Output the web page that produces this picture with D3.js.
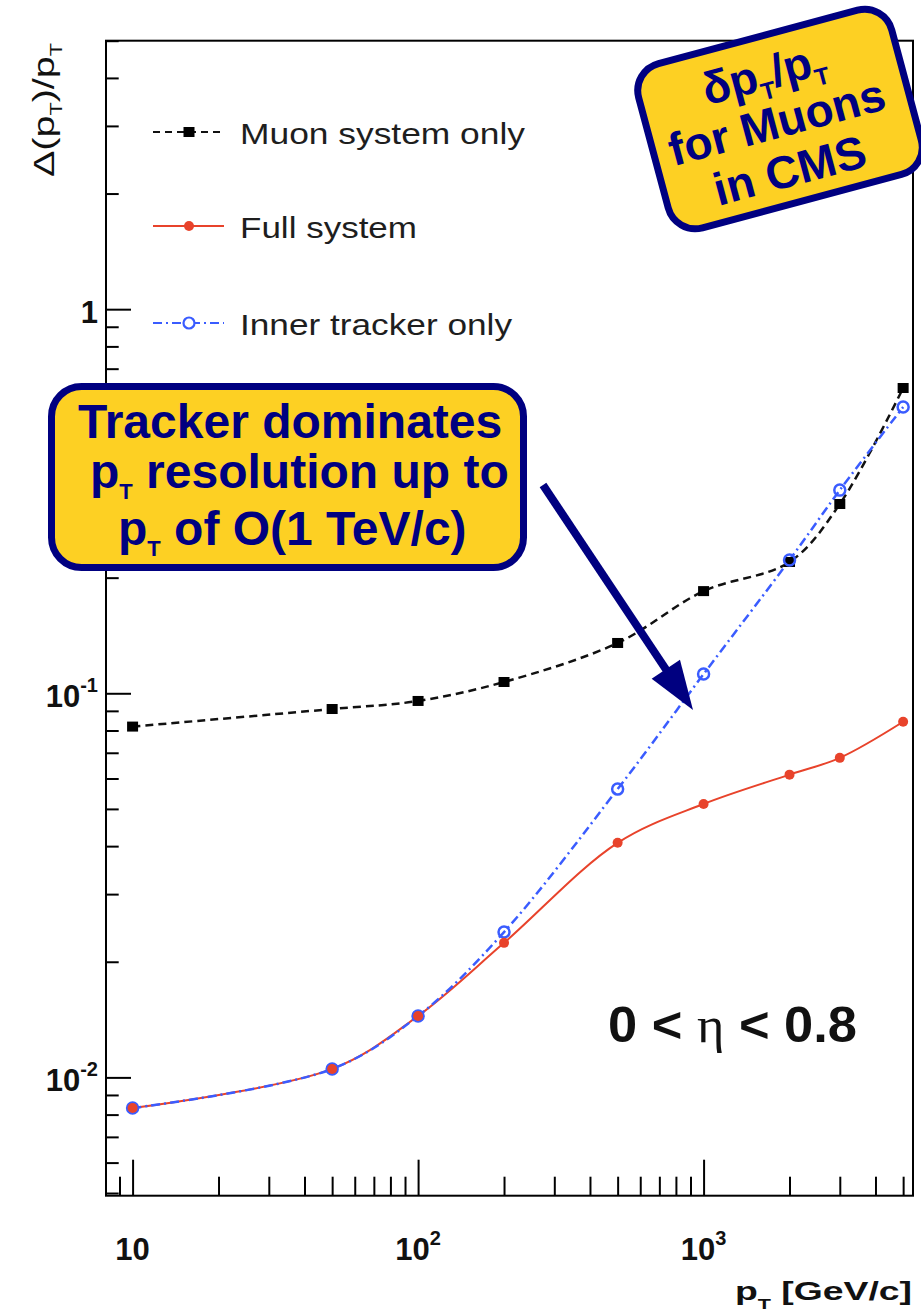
<!DOCTYPE html>
<html>
<head>
<meta charset="utf-8">
<script src="https://cdn.jsdelivr.net/npm/d3@7"></script>
<style>
  html, body { margin: 0; padding: 0; background: #fff; }
  svg { display: block; }
</style>
</head>
<body>
<svg id="chart" width="921" height="1311"></svg>
<script>
// Muon transverse-momentum resolution vs pT, 0 < eta < 0.8
const ptValues     = [10, 50, 100, 200, 500, 1000, 2000, 3000, 5000];
const muonOnly     = [0.0819, 0.0910, 0.0955, 0.107, 0.1352, 0.1845, 0.2197, 0.311, 0.6234];
const fullSystem   = [0.00832, 0.01052, 0.01445, 0.0224, 0.0408, 0.0515, 0.0614, 0.0679, 0.0843];
const innerTracker = [0.00832, 0.01052, 0.01445, 0.0239, 0.0563, 0.1122, 0.2223, 0.338, 0.556];
const seriesNames  = ["Muon system only", "Full system", "Inner tracker only"];

const xMajorTicks = [10, 100, 1000];
const xTickLabels = [["10", ""], ["10", "2"], ["10", "3"]];
const yMajorTicks = [0.01, 0.1, 1];
const yTickLabels = [["10", "-2"], ["10", "-1"], ["1", ""]];

const FONT = "'Liberation Sans', Arial, Helvetica, sans-serif";
const NAVY = "#000080";
const GOLD = "#fdd023";
const RED = "#e8432b";
const BLUE = "#3a5cff";

const svg = d3.select("#chart");

const x = d3.scaleLog().domain([8.07, 5414]).range([106, 913]);
const y = d3.scaleLog().domain([0.00492, 5]).range([1195.7, 40.7]);

const isDecade = v => Math.abs(Math.log10(v) - Math.round(Math.log10(v))) < 1e-6;
const xMinor = x.ticks().filter(v => !isDecade(v));
const yMinor = y.ticks().filter(v => !isDecade(v));

// ---- axes (ticks drawn inward) ----
const gx = svg.append("g").attr("transform", `translate(0,${y.range()[0]})`);
gx.append("g").call(d3.axisBottom(x).tickValues(xMinor).tickSize(-19).tickFormat(""));
gx.append("g").call(d3.axisBottom(x).tickValues(xMajorTicks).tickSize(-36).tickFormat(""));
const gy = svg.append("g").attr("transform", `translate(${x.range()[0]},0)`);
gy.append("g").call(d3.axisLeft(y).tickValues(yMinor).tickSize(-12.7).tickFormat(""));
gy.append("g").call(d3.axisLeft(y).tickValues(yMajorTicks).tickSize(-25).tickFormat(""));
svg.selectAll(".domain").remove();
svg.selectAll(".tick line").attr("stroke", "#000").attr("stroke-width", 2);

// frame
svg.append("rect")
  .attr("x", x.range()[0]).attr("y", y.range()[1])
  .attr("width", x.range()[1] - x.range()[0])
  .attr("height", y.range()[0] - y.range()[1])
  .attr("fill", "none").attr("stroke", "#000").attr("stroke-width", 2);

// tick labels
xMajorTicks.forEach((v, i) => {
  const t = svg.append("text")
    .attr("x", x(v)).attr("y", 1260)
    .attr("text-anchor", "middle")
    .attr("font-family", FONT).attr("font-weight", "bold")
    .attr("font-size", 31).attr("fill", "#111");
  t.append("tspan").text(xTickLabels[i][0]);
  if (xTickLabels[i][1]) t.append("tspan").attr("font-size", 20).attr("dy", -15).text(xTickLabels[i][1]);
});
yMajorTicks.forEach((v, i) => {
  const t = svg.append("text")
    .attr("x", 98).attr("y", y(v) + 14)
    .attr("text-anchor", "end")
    .attr("font-family", FONT).attr("font-weight", "bold")
    .attr("font-size", 31).attr("fill", "#111");
  t.append("tspan").text(yTickLabels[i][0]);
  if (yTickLabels[i][1]) t.append("tspan").attr("font-size", 20).attr("dy", -15).text(yTickLabels[i][1]);
});

// axis titles
const xt = svg.append("text")
  .attr("x", 912).attr("y", 1300).attr("text-anchor", "end")
  .attr("font-family", FONT).attr("font-weight", "bold")
  .attr("font-size", 26).attr("fill", "#111")
  .attr("textLength", 177).attr("lengthAdjust", "spacingAndGlyphs");
xt.append("tspan").text("p");
xt.append("tspan").attr("font-size", 15).attr("dy", 9).text("T");
xt.append("tspan").attr("dy", -9).text(" [GeV/c]");

const yt = svg.append("text")
  .attr("transform", "translate(54,177) rotate(-90)")
  .attr("font-family", FONT).attr("font-size", 29).attr("fill", "#111")
  .attr("textLength", 134).attr("lengthAdjust", "spacingAndGlyphs");
yt.append("tspan").text("\u0394(p");
yt.append("tspan").attr("font-size", 16).attr("dy", 8).text("T");
yt.append("tspan").attr("dy", -8).text(")/p");
yt.append("tspan").attr("font-size", 16).attr("dy", 8).text("T");

// ---- series ----
const lineGen = d3.line()
  .x((d, i) => x(ptValues[i]))
  .y(d => y(d))
  .curve(d3.curveCatmullRom.alpha(0.5));

svg.append("path").datum(muonOnly).attr("d", lineGen)
  .attr("fill", "none").attr("stroke", "#111").attr("stroke-width", 2.5)
  .attr("stroke-dasharray", "8,5");
svg.append("path").datum(fullSystem).attr("d", lineGen)
  .attr("fill", "none").attr("stroke", RED).attr("stroke-width", 2);
svg.append("path").datum(innerTracker).attr("d", lineGen)
  .attr("fill", "none").attr("stroke", BLUE).attr("stroke-width", 2.5)
  .attr("stroke-dasharray", "9,4,2,4");

svg.append("g").selectAll("rect").data(muonOnly).join("rect")
  .attr("x", (d, i) => x(ptValues[i]) - 5.5).attr("y", d => y(d) - 5)
  .attr("width", 11).attr("height", 10).attr("fill", "#000");
svg.append("g").selectAll("circle").data(innerTracker).join("circle")
  .attr("cx", (d, i) => x(ptValues[i])).attr("cy", d => y(d))
  .attr("r", 5.5).attr("fill", "none").attr("stroke", BLUE).attr("stroke-width", 2.5);
svg.append("g").selectAll("circle").data(fullSystem).join("circle")
  .attr("cx", (d, i) => x(ptValues[i])).attr("cy", d => y(d))
  .attr("r", 5).attr("fill", RED);

// ---- legend ----
const legendRows = [
  { y: 132, text: seriesNames[0], len: 285, color: "#111", dash: "7,5", w: 2.2, marker: "square" },
  { y: 226, text: seriesNames[1], len: 177, color: RED, dash: null, w: 2, marker: "dot" },
  { y: 323, text: seriesNames[2], len: 272, color: BLUE, dash: "9,4,2,4", w: 2.2, marker: "ring" }
];
legendRows.forEach(r => {
  const g = svg.append("g");
  g.append("line").attr("x1", 153).attr("x2", 224).attr("y1", r.y).attr("y2", r.y)
    .attr("stroke", r.color).attr("stroke-width", r.w)
    .attr("stroke-dasharray", r.dash);
  if (r.marker === "square") g.append("rect").attr("x", 183.5).attr("y", r.y - 5).attr("width", 11).attr("height", 10).attr("fill", "#000");
  if (r.marker === "dot") g.append("circle").attr("cx", 189).attr("cy", r.y).attr("r", 5).attr("fill", RED);
  if (r.marker === "ring") g.append("circle").attr("cx", 189).attr("cy", r.y).attr("r", 5.5).attr("fill", "#fff").attr("stroke", BLUE).attr("stroke-width", 2.2);
  g.append("text").attr("x", 240).attr("y", r.y + 12)
    .attr("font-family", FONT).attr("font-size", 30).attr("fill", "#1e1e1e")
    .attr("textLength", r.len).attr("lengthAdjust", "spacingAndGlyphs")
    .text(r.text);
});

// eta range label
const eta = svg.append("text").attr("x", 608).attr("y", 1042)
  .attr("font-family", FONT).attr("font-weight", "bold")
  .attr("font-size", 50).attr("fill", "#111")
  .attr("textLength", 249).attr("lengthAdjust", "spacingAndGlyphs");
eta.append("tspan").text("0 < ");
eta.append("tspan").attr("font-family", "'Liberation Serif', 'DejaVu Serif', serif").attr("font-weight", "normal").text("\u03b7");
eta.append("tspan").text(" < 0.8");

// ---- annotation arrow ----
const arrowStart = [543, 485], arrowTip = [693, 710];
const dx = arrowTip[0] - arrowStart[0], dy = arrowTip[1] - arrowStart[1];
const len = Math.hypot(dx, dy), ux = dx / len, uy = dy / len;
const headLen = 49, headHalf = 17;
const base = [arrowTip[0] - ux * headLen, arrowTip[1] - uy * headLen];
svg.append("line")
  .attr("x1", arrowStart[0]).attr("y1", arrowStart[1])
  .attr("x2", base[0] + ux * 2).attr("y2", base[1] + uy * 2)
  .attr("stroke", NAVY).attr("stroke-width", 8);
svg.append("polygon")
  .attr("points", [arrowTip, [base[0] - uy * headHalf, base[1] + ux * headHalf], [base[0] + uy * headHalf, base[1] - ux * headHalf]].map(p => p.join(",")).join(" "))
  .attr("fill", NAVY);

// ---- callout boxes ----
svg.append("rect")
  .attr("x", 51.5).attr("y", 386.5).attr("width", 472).attr("height", 181).attr("rx", 30)
  .attr("fill", GOLD).attr("stroke", NAVY).attr("stroke-width", 7);
const cLines = [
  { x: 78, y: 438, parts: [["Tracker dominates", 0]] },
  { x: 90, y: 488, parts: [["p", 0], ["T", 1], [" resolution up to", 0]] },
  { x: 118, y: 545, parts: [["p", 0], ["T", 1], [" of O(1 TeV/c)", 0]] }
];
cLines.forEach(l => {
  const t = svg.append("text").attr("x", l.x).attr("y", l.y)
    .attr("font-family", FONT).attr("font-weight", "bold")
    .attr("font-size", 48).attr("fill", NAVY);
  let shifted = false;
  l.parts.forEach(([s, sub]) => {
    const ts = t.append("tspan").text(s);
    if (sub) { ts.attr("font-size", 22).attr("dy", 11); shifted = true; }
    else if (shifted) { ts.attr("dy", -11); shifted = false; }
  });
});

const badge = svg.append("g").attr("transform", "translate(780,119) rotate(-15)");
badge.append("rect")
  .attr("x", -131).attr("y", -85).attr("width", 262).attr("height", 170).attr("rx", 28)
  .attr("fill", GOLD).attr("stroke", NAVY).attr("stroke-width", 7);
const bLines = [
  { y: -32, parts: [["\u03b4p", 0], ["T", 1], ["/p", 0], ["T", 1]] },
  { y: 18, parts: [["for Muons", 0]] },
  { y: 68, parts: [["in CMS", 0]] }
];
bLines.forEach(l => {
  const t = badge.append("text").attr("x", -4).attr("y", l.y)
    .attr("text-anchor", "middle")
    .attr("font-family", FONT).attr("font-weight", "bold")
    .attr("font-size", 46).attr("fill", NAVY);
  let shifted = false;
  l.parts.forEach(([s, sub]) => {
    const ts = t.append("tspan").text(s);
    if (sub) { ts.attr("font-size", 24).attr("dy", 10); shifted = true; }
    else if (shifted) { ts.attr("dy", -10); shifted = false; }
  });
});
</script>
</body>
</html>
